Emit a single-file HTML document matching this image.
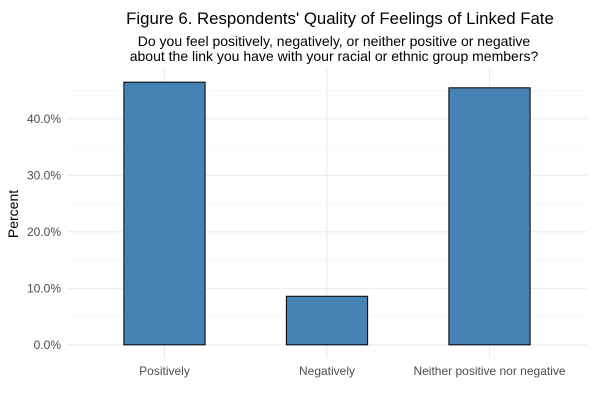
<!DOCTYPE html>
<html><head><meta charset="utf-8"><style>
body{margin:0;background:#fff;font-family:"Liberation Sans",sans-serif}
</style></head><body>
<svg id="c" width="595" height="402" xmlns="http://www.w3.org/2000/svg">
<text x="340" y="24" text-anchor="middle" font-size="16.8" fill="#000">Figure 6. Respondents' Quality of Feelings of Linked Fate</text>
<text x="334" y="46" text-anchor="middle" font-size="14" fill="#000">Do you feel positively, negatively, or neither positive or negative</text>
<text x="334" y="61" text-anchor="middle" font-size="14" fill="#000">about the link you have with your racial or ethnic group members?</text>
<text x="18" y="214" text-anchor="middle" font-size="14" transform="rotate(-90 18 214)" fill="#000">Percent</text>
<g id="grid"></g><g id="bars"></g><g id="labels"></g>
</svg>
<script>
const categories=["Positively","Negatively","Neither positive nor negative"];
const values=[46.5,8.6,45.5];
const yTicks=[0,10,20,30,40];
const yTickLabels=["0.0%","10.0%","20.0%","30.0%","40.0%"];
const NS="http://www.w3.org/2000/svg";
const px0=67,px1=587,py0=69,py1=358;
const ymin=-2.33,ymax=48.83;
const y=v=>py1-(v-ymin)/(ymax-ymin)*(py1-py0);
const step=(px1-px0)/(categories.length+0.2);
const x=i=>px0+step*(i+0.6);
function mk(t,a,p){const e=document.createElementNS(NS,t);for(const k in a)e.setAttribute(k,a[k]);p.appendChild(e);return e;}
const g=document.getElementById('grid'),b=document.getElementById('bars'),l=document.getElementById('labels');
for(let v=5;v<ymax;v+=10){const ln=mk('line',{x1:px0,x2:px1,y1:y(v),y2:y(v),stroke:'#f0f0f0','stroke-width':0.6},g);

}
yTicks.forEach((v,i)=>{const ln=mk('line',{x1:px0,x2:px1,y1:y(v),y2:y(v),stroke:'#ebebeb','stroke-width':1.1},g);


const t=mk('text',{x:px0-6,y:y(v)+4,'text-anchor':'end','font-size':'12','fill':'#4d4d4d'},l);t.textContent=yTickLabels[i];

});
categories.forEach((c,i)=>{const ln=mk('line',{x1:x(i),x2:x(i),y1:py0,y2:py1,stroke:'#ebebeb','stroke-width':1.1},g);


const w=step*0.5;
const r=mk('rect',{x:x(i)-w/2,y:y(values[i]),width:w,height:y(0)-y(values[i]),fill:'#4682b4',stroke:'#000','stroke-width':1},b);


const t=mk('text',{x:x(i),y:375,'text-anchor':'middle','font-size':'12','fill':'#4d4d4d'},l);t.textContent=c;

});
</script>
</body></html>
